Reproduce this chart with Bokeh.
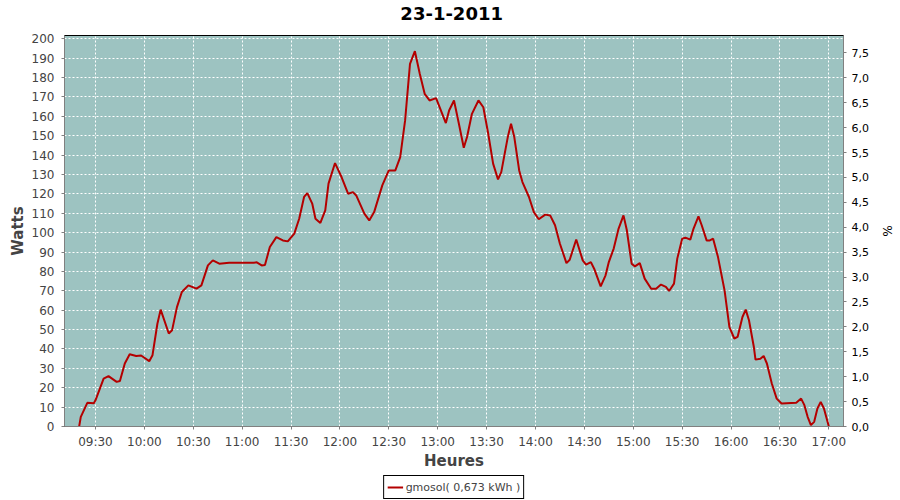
import pandas as pd
from bokeh.plotting import figure
from bokeh.layouts import column
from bokeh.models import (Range1d, LinearAxis, SingleIntervalTicker, DatetimeTickFormatter,
                          CustomJSTickFormatter, Legend, LegendItem, Label)
from bokeh.embed import file_html
from bokeh.resources import INLINE

title = "23-1-2011"
day = "2011-01-23"
series_name = "gmosol( 0,673 kWh )"

times = ["09:20","09:21","09:25","09:29","09:30","09:35","09:38","09:43","09:45","09:48",
         "09:51","09:55","09:58","10:03","10:05","10:08","10:10","10:15","10:17","10:20",
         "10:23","10:27","10:32","10:35","10:39","10:42","10:46","10:52","11:07","11:09",
         "11:12","11:14","11:17","11:21","11:25","11:28","11:32","11:35","11:38","11:40",
         "11:43","11:45","11:48","11:51","11:53","11:57","12:01","12:05","12:08","12:10",
         "12:15","12:18","12:21","12:26","12:30","12:34","12:37","12:40","12:43","12:46",
         "12:49","12:52","12:55","12:59","13:02","13:05","13:07","13:10","13:13","13:16",
         "13:18","13:21","13:25","13:28","13:31","13:34","13:37","13:39","13:43","13:45",
         "13:47","13:50","13:52","13:56","13:59","14:02","14:06","14:09","14:12","14:15",
         "14:19","14:21","14:25","14:29","14:31","14:34","14:36","14:40","14:43","14:45",
         "14:48","14:51","14:54","14:56","14:59","15:01","15:04","15:07","15:11","15:14",
         "15:17","15:20","15:22","15:25","15:27","15:30","15:32","15:35","15:37","15:40",
         "15:42","15:45","15:47","15:49","15:52","15:56","15:59","16:02","16:04","16:07",
         "16:09","16:11","16:14","16:15","16:18","16:20","16:22","16:25","16:28","16:31",
         "16:40","16:43","16:45","16:47","16:49","16:51","16:53","16:55","16:57","17:00"]

watts = [0, 5, 12.2, 12, 13.5, 24.7, 26, 23, 23.5, 32.5,
         37.3, 36.4, 36.6, 33.7, 36.8, 53, 60.3, 48, 49.6, 61.6,
         69.4, 72.8, 71.1, 72.8, 83.1, 85.7, 84, 84.5, 84.5, 84.7,
         83.1, 83.3, 92.6, 97.7, 96, 95.5, 99.5, 107.2, 118.4, 120.4,
         115, 107.2, 105, 111.5, 125.3, 135.9, 128.7, 120.1, 120.9, 119.2,
         109.8, 106.3, 110.6, 124.4, 132.1, 132.1, 139, 157.9, 187.1, 193.6,
         182, 171.6, 168.2, 169.4, 163, 156.5, 163, 168.2, 156.2, 143.8,
         149.3, 161.3, 168.2, 164.7, 151, 135.6, 127.5, 131.2, 149.3, 156.2,
         149.3, 132.1, 126.1, 118.4, 110.6, 106.9, 109.3, 108.9, 103.8, 94.3,
         84.3, 86, 96.5, 85.7, 83.5, 84.8, 81.4, 72.3, 78, 84.8,
         91.8, 102.1, 108.9, 101.5, 84, 82.6, 84.3, 76.3, 71.1, 71.1,
         73.2, 72, 69.9, 73.7, 86.6, 96.9, 97.4, 96.4, 102.1, 108.4,
         103.8, 96, 96, 96.9, 87.4, 70.3, 51.3, 45.4, 46.2, 56.5,
         60.3, 54.8, 41, 34.5, 35, 36.4, 32.5, 22.2, 14.4, 11.9,
         12.2, 14.4, 11, 5, 0.7, 2.4, 9.3, 12.7, 9.3, 0]

x_start, x_end = "09:11", "17:09"
watts_range = (0, 201.7)
pct_range = (0, 7.85)

LINE_COLOR = "#B40000"
FONT = "DejaVu Sans"

x = pd.to_datetime([f"{day} {t}" for t in times])

# ---- title strip ----
pt = figure(width=900, height=30, output_backend="svg", toolbar_location=None,
            x_range=Range1d(0, 1), y_range=Range1d(0, 1),
            x_axis_location=None, y_axis_location=None, min_border=0)
pt.outline_line_color = None
pt.grid.visible = False
pt.add_layout(Label(x=0.497, y=0.58, text=title, text_align="center", text_baseline="middle",
                    text_font=FONT, text_font_size="18px", text_font_style="bold",
                    text_color="black"))

# ---- main chart ----
p = figure(frame_width=779, frame_height=391, output_backend="svg", toolbar_location=None,
           x_axis_type="datetime",
           x_range=Range1d(pd.Timestamp(f"{day} {x_start}"), pd.Timestamp(f"{day} {x_end}")),
           y_range=Range1d(*watts_range),
           min_border_left=64, min_border_right=57, min_border_top=5, min_border_bottom=48)

p.background_fill_color = "#9DC3C1"
p.border_fill_color = "white"
p.outline_line_color = "black"
p.outline_line_width = 1

r = p.line(x, watts, line_color=LINE_COLOR, line_width=2)

xa = p.xaxis[0]
xa.ticker = SingleIntervalTicker(interval=30 * 60 * 1000, num_minor_ticks=0)
xa.formatter = DatetimeTickFormatter(minutes="%H:%M", hourmin="%H:%M", hours="%H:%M",
                                     minsec="%H:%M", seconds="%H:%M", days="%H:%M")
xa.axis_label = "Heures"

ya = p.yaxis[0]
ya.ticker = SingleIntervalTicker(interval=10, num_minor_ticks=0)
ya.axis_label = "Watts"

p.extra_y_ranges = {"pct": Range1d(*pct_range)}
ra = LinearAxis(y_range_name="pct", axis_label="%",
                ticker=SingleIntervalTicker(interval=0.5, num_minor_ticks=0),
                formatter=CustomJSTickFormatter(code="return tick.toFixed(1).replace('.', ',');"))
p.add_layout(ra, "right")

for ax in (xa, ya, ra):
    ax.axis_line_color = "#808080"
    ax.major_tick_line_color = "#808080"
    ax.major_tick_out = 3
    ax.major_tick_in = 0
    ax.minor_tick_line_color = None
    ax.major_label_text_font = FONT
    ax.major_label_text_font_size = "12px"
    ax.major_label_text_color = "#444444"
    ax.axis_label_text_font = FONT
    ax.axis_label_text_font_size = "15px"
    ax.axis_label_text_font_style = "bold"
    ax.axis_label_text_color = "#444444"

xa.major_label_standoff = 5
xa.axis_label_standoff = 0
ya.major_label_standoff = 7
ya.axis_label_standoff = 2
ra.major_label_standoff = 5
ra.axis_label_standoff = 8
ra.major_label_text_color = "black"
ra.major_label_text_font_size = "11px"
ra.axis_label_text_color = "black"
ra.axis_label_text_font_style = "normal"
ra.axis_label_text_font_size = "12px"

p.xgrid.grid_line_color = "white"
p.xgrid.grid_line_dash = "2 2"
p.ygrid.grid_line_color = "white"
p.ygrid.grid_line_dash = "2 2"

# ---- legend strip (same series, drawn outside this strip's ranges) ----
pl = figure(width=900, height=26, output_backend="svg", toolbar_location=None,
            x_range=Range1d(0, 1), y_range=Range1d(0, 1),
            x_axis_location=None, y_axis_location=None, min_border=0)
pl.outline_line_color = None
pl.grid.visible = False
rl = pl.line(x, watts, line_color=LINE_COLOR, line_width=2)
legend = Legend(items=[LegendItem(label=series_name, renderers=[rl])],
                location="center", orientation="horizontal",
                border_line_color="black", border_line_width=1, border_line_alpha=1,
                padding=3, margin=0, spacing=0,
                label_text_font=FONT, label_text_font_size="11px",
                label_text_color="#444444",
                glyph_width=16, glyph_height=16, label_height=16, label_standoff=3,
                background_fill_color="white")
pl.add_layout(legend)

layout = column(pt, p, pl, spacing=0)
open("out.html", "w").write(file_html(layout, INLINE))
